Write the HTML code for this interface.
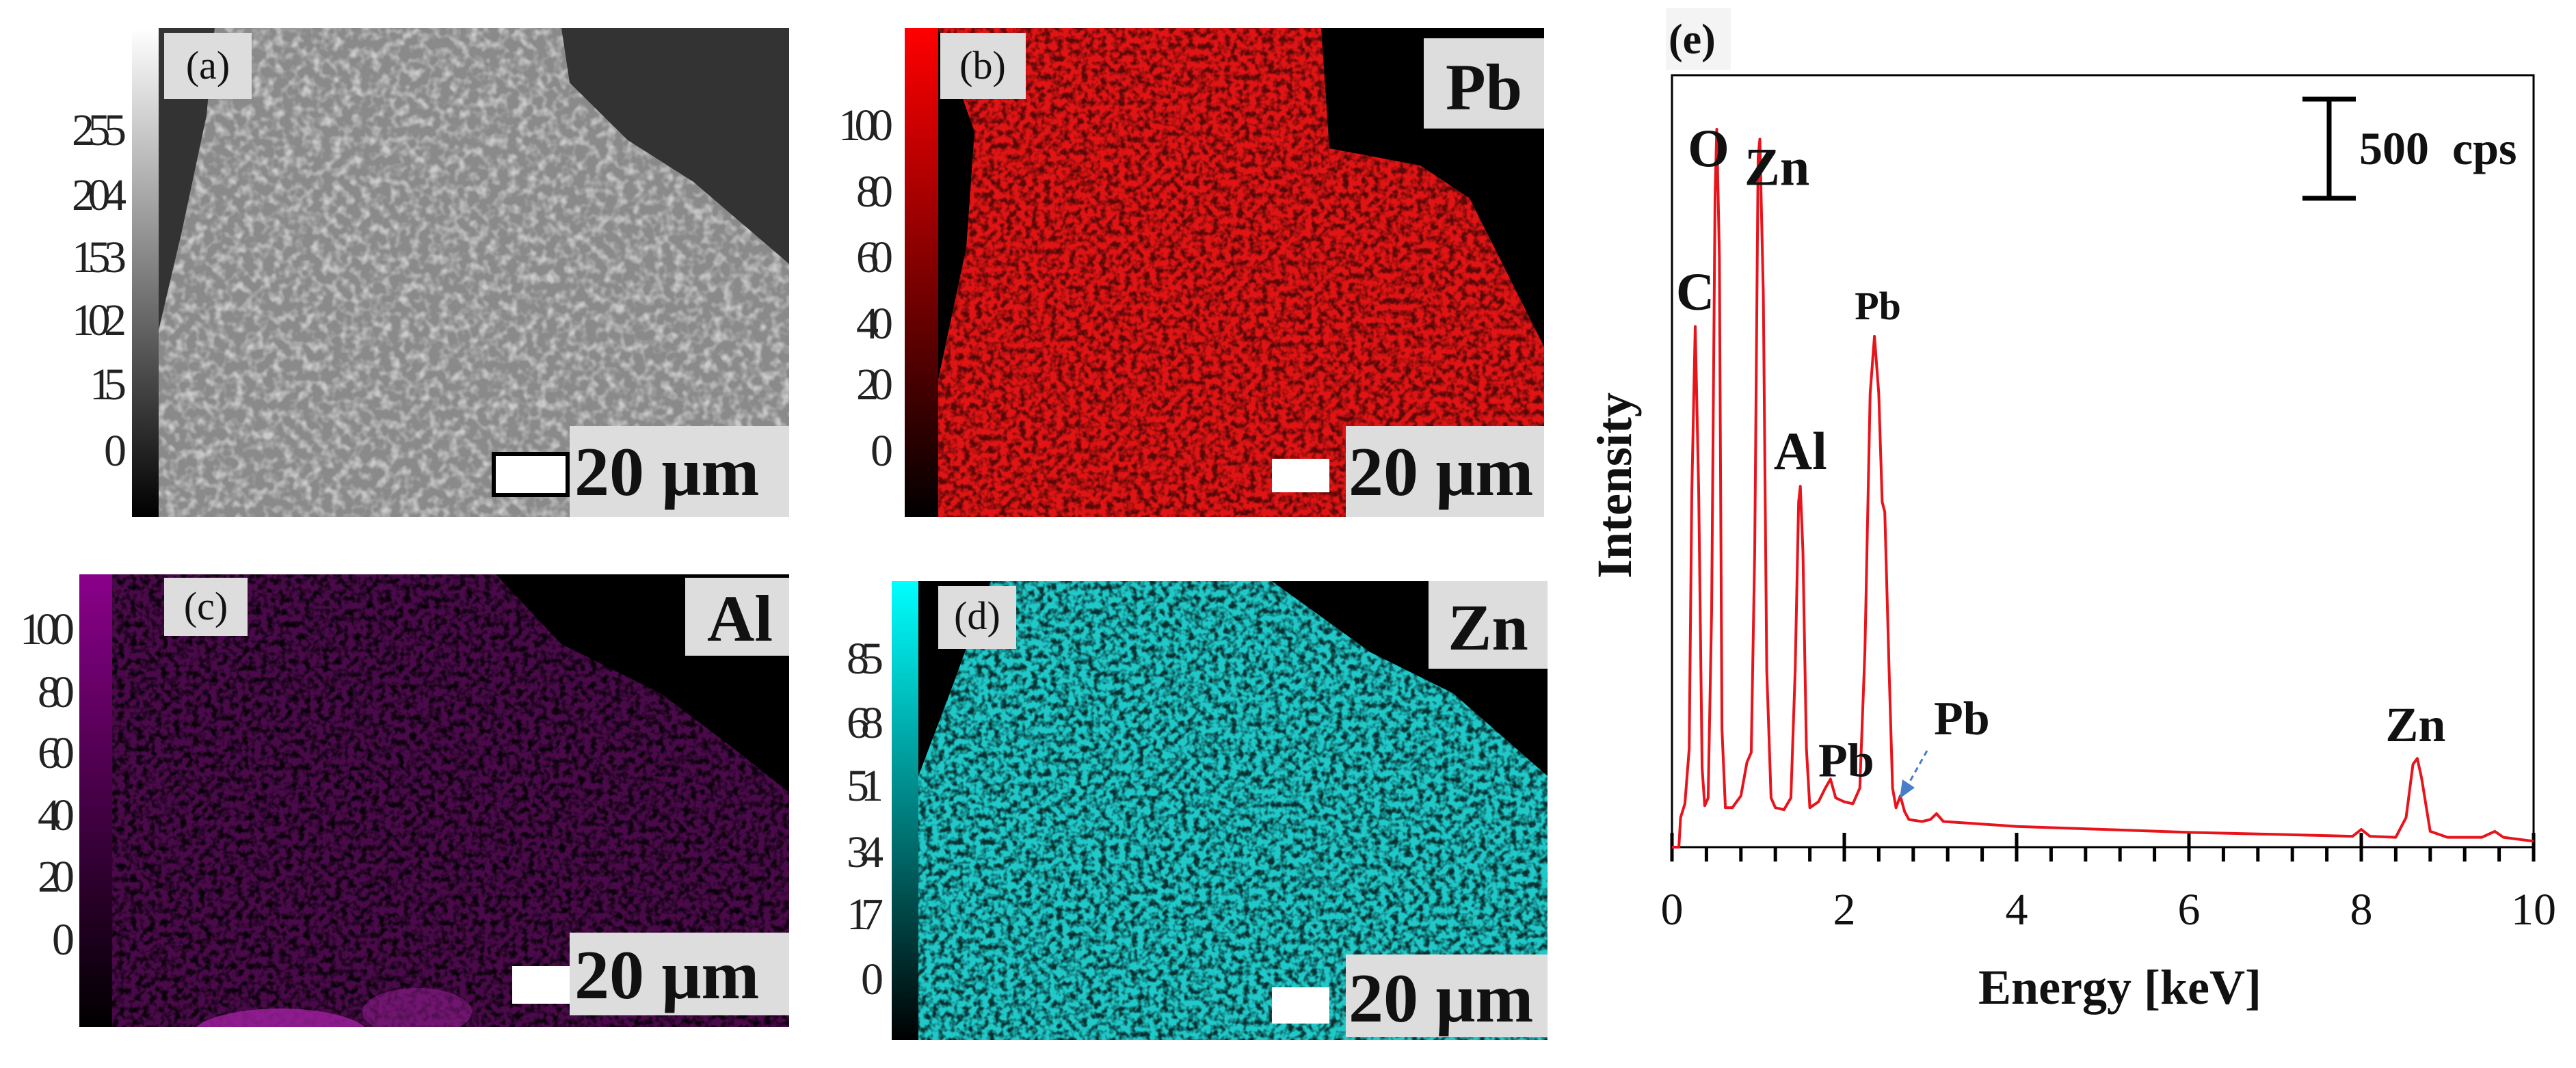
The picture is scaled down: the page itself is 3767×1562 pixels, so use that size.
<!DOCTYPE html>
<html><head><meta charset="utf-8"><style>
html,body{margin:0;padding:0;background:#fff;}
svg{display:block;}
.cb{font-family:"Liberation Serif",serif;font-size:66px;fill:#222;}
.lab{font-family:"Liberation Serif",serif;font-size:58px;fill:#111;}
.el{font-family:"Liberation Serif",serif;font-size:96px;font-weight:bold;fill:#111;}
.sc{font-family:"Liberation Serif",serif;font-size:102px;font-weight:bold;fill:#111;}
.pk{font-family:"Liberation Serif",serif;font-weight:bold;fill:#111;}
</style></head><body>
<svg id="fig" width="3767" height="1562" viewBox="0 0 3767 1562" xmlns="http://www.w3.org/2000/svg">
<defs>
<filter id="nz" x="0" y="0" width="100%" height="100%"><feTurbulence type="fractalNoise" baseFrequency="0.07" numOctaves="2" seed="3"/><feColorMatrix type="matrix" values="0 0 0 0 1  0 0 0 0 1  0 0 0 0 1  0 0 0 2.6 -1.1"/></filter>
<filter id="nzK" x="0" y="0" width="100%" height="100%"><feTurbulence type="fractalNoise" baseFrequency="0.11" numOctaves="2" seed="7"/><feColorMatrix type="matrix" values="0 0 0 0 0  0 0 0 0 0  0 0 0 0 0  0 0 0 3.2 -1.3"/></filter>
<linearGradient id="gA" x1="0" y1="1" x2="0" y2="0"><stop offset="0" stop-color="#000"/><stop offset="1" stop-color="#fff"/></linearGradient>
<linearGradient id="gB" x1="0" y1="1" x2="0" y2="0"><stop offset="0" stop-color="#000"/><stop offset="1" stop-color="#f00"/></linearGradient>
<linearGradient id="gC" x1="0" y1="1" x2="0" y2="0"><stop offset="0" stop-color="#000"/><stop offset="1" stop-color="#8a008a"/></linearGradient>
<linearGradient id="gD" x1="0" y1="1" x2="0" y2="0"><stop offset="0" stop-color="#000"/><stop offset="1" stop-color="#0ff"/></linearGradient>
<clipPath id="cA"><polygon points="314,41 821,41 833,121 918,205 1014,266 1154,386 1154,756 232,756 232,483 266,338 302,169"/></clipPath>
<clipPath id="cB"><polygon points="1372,41 1932,41 1944,217 2077,242 2149,290 2258,507 2258,756 1372,756 1372,555 1413,362 1425,193"/></clipPath>
<clipPath id="cC"><polygon points="164,840 725,840 821,942 966,1014 1063,1087 1154,1159 1154,1502 164,1502"/></clipPath>
<clipPath id="cCr"><rect x="164" y="840" width="990" height="662"/></clipPath>
<clipPath id="cD"><polygon points="1449,850 1860,850 2004,954 2125,1014 2263,1135 2263,1521 1343,1521 1343,1135 1389,1014"/></clipPath>
</defs>

<!-- panel a -->
<g>
<rect x="193" y="41" width="961" height="715" fill="#333"/>
<g clip-path="url(#cA)"><rect x="232" y="41" width="922" height="715" fill="#8a8a8a"/><rect x="232" y="41" width="922" height="715" filter="url(#nz)" opacity="0.55"/></g>
<rect x="193" y="41" width="39" height="715" fill="url(#gA)"/>
<g class="cb" text-anchor="end">
<text x="185" y="212" textLength="80">255</text><text x="185" y="307" textLength="80">204</text><text x="185" y="398" textLength="80">153</text><text x="185" y="490" textLength="80">102</text><text x="185" y="584" textLength="54">15</text><text x="185" y="681" textLength="28">0</text></g>
<rect x="240" y="48" width="128" height="97" fill="#ddd"/><text class="lab" x="304" y="115" text-anchor="middle">(a)</text>
<rect x="833" y="623" width="321" height="133" fill="#ddd"/><rect x="722" y="664" width="108" height="60" fill="#fff" stroke="#000" stroke-width="6"/>
<text class="sc" x="840" y="724">20 μm</text>
</g>

<!-- panel b -->
<g>
<rect x="1323" y="41" width="935" height="715" fill="#000"/>
<g clip-path="url(#cB)"><rect x="1372" y="41" width="886" height="715" fill="#e01414"/><rect x="1372" y="41" width="886" height="715" filter="url(#nzK)" opacity="0.6"/></g>
<rect x="1323" y="41" width="49" height="715" fill="url(#gB)"/>
<g class="cb" text-anchor="end">
<text x="1306" y="205" textLength="80">100</text><text x="1306" y="302" textLength="54">80</text><text x="1306" y="398" textLength="54">60</text><text x="1306" y="495" textLength="54">40</text><text x="1306" y="584" textLength="54">20</text><text x="1306" y="681" textLength="28">0</text></g>
<rect x="1375" y="48" width="125" height="97" fill="#ddd"/><text class="lab" x="1437" y="115" text-anchor="middle">(b)</text>
<rect x="2082" y="56" width="176" height="132" fill="#ddd"/><text class="el" x="2170" y="160" text-anchor="middle">Pb</text>
<rect x="1968" y="623" width="290" height="133" fill="#ddd"/><rect x="1860" y="671" width="84" height="49" fill="#fff"/>
<text class="sc" x="1972" y="724">20 μm</text>
</g>

<!-- panel c -->
<g>
<rect x="116" y="840" width="1038" height="662" fill="#000"/>
<g clip-path="url(#cC)"><rect x="164" y="840" width="990" height="662" fill="#4a0a4a"/><rect x="164" y="840" width="990" height="662" filter="url(#nzK)" opacity="0.85"/></g>
<g clip-path="url(#cCr)"><ellipse cx="410" cy="1515" rx="130" ry="40" fill="#a020a0" opacity="0.8"/><ellipse cx="610" cy="1480" rx="80" ry="35" fill="#9a209a" opacity="0.5"/></g>
<rect x="116" y="840" width="48" height="662" fill="url(#gC)"/>
<g class="cb" text-anchor="end">
<text x="109" y="942" textLength="80">100</text><text x="109" y="1034" textLength="54">80</text><text x="109" y="1123" textLength="54">60</text><text x="109" y="1214" textLength="54">40</text><text x="109" y="1304" textLength="54">20</text><text x="109" y="1396" textLength="28">0</text></g>
<rect x="240" y="845" width="122" height="85" fill="#ddd"/><text class="lab" x="301" y="906" text-anchor="middle">(c)</text>
<rect x="1002" y="845" width="152" height="114" fill="#ddd"/><text class="el" x="1082" y="937" text-anchor="middle">Al</text>
<rect x="833" y="1364" width="321" height="121" fill="#ddd"/><rect x="749" y="1413" width="84" height="55" fill="#fff"/>
<text class="sc" x="840" y="1460">20 μm</text>
</g>

<!-- panel d -->
<g>
<rect x="1304" y="850" width="959" height="671" fill="#000"/>
<g clip-path="url(#cD)"><rect x="1343" y="850" width="920" height="671" fill="#20c8c8"/><rect x="1343" y="850" width="920" height="671" filter="url(#nzK)" opacity="0.75"/></g>
<rect x="1304" y="850" width="39" height="671" fill="url(#gD)"/>
<g class="cb" text-anchor="end">
<text x="1292" y="985" textLength="54">85</text><text x="1292" y="1079" textLength="54">68</text><text x="1292" y="1171" textLength="54">51</text><text x="1292" y="1268" textLength="54">34</text><text x="1292" y="1359" textLength="54">17</text><text x="1292" y="1454" textLength="28">0</text></g>
<rect x="1372" y="857" width="114" height="92" fill="#ddd"/><text class="lab" x="1429" y="920" text-anchor="middle">(d)</text>
<rect x="2089" y="850" width="174" height="128" fill="#ddd"/><text class="el" x="2176" y="950" text-anchor="middle">Zn</text>
<rect x="1968" y="1396" width="295" height="121" fill="#ddd"/><rect x="1860" y="1444" width="84" height="53" fill="#fff"/>
<text class="sc" x="1972" y="1494">20 μm</text>
</g>

<!-- panel e -->
<g id="chart">
<rect x="2436" y="12" width="95" height="90" fill="#f4f4f4"/>
<text class="pk" x="2440" y="78" font-size="62">(e)</text>
<rect x="2445" y="110" width="1260" height="1129" fill="none" stroke="#000" stroke-width="3"/>
<text class="pk" x="3100" y="1468" font-size="72" text-anchor="middle">Energy [keV]</text>
<text class="pk" x="2385" y="710" font-size="72" text-anchor="middle" transform="rotate(-90 2385 710)">Intensity</text>
<g>
<line x1="3406" y1="145" x2="3406" y2="290" stroke="#000" stroke-width="7"/>
<line x1="3367" y1="145" x2="3445" y2="145" stroke="#000" stroke-width="7"/>
<line x1="3367" y1="290" x2="3445" y2="290" stroke="#000" stroke-width="7"/>
<text class="pk" x="3450" y="240" font-size="68" xml:space="preserve">500  cps</text></g>
<g id="ticks"></g>
<g id="series"></g>
<g id="annot"></g>
</g>
</svg>
<script>
const energies=[0,0.08,0.1,0.15,0.2,0.23,0.27,0.31,0.35,0.38,0.42,0.46,0.5,0.52,0.55,0.58,0.62,0.7,0.8,0.87,0.92,0.96,1.0,1.02,1.06,1.1,1.15,1.2,1.3,1.38,1.43,1.47,1.49,1.52,1.56,1.6,1.7,1.78,1.84,1.9,2.0,2.1,2.18,2.24,2.3,2.35,2.4,2.44,2.47,2.52,2.56,2.6,2.65,2.7,2.75,2.9,3.0,3.07,3.15,3.5,4,5,6,7,7.9,8.0,8.1,8.4,8.52,8.6,8.65,8.7,8.8,9.0,9.4,9.55,9.65,10];
const counts=[0,0,150,220,500,1800,2640,1800,400,210,250,1200,3300,3640,3000,600,200,200,260,430,480,1500,3500,3590,2800,900,250,200,190,250,900,1750,1830,1500,500,200,230,300,345,250,230,220,300,1000,2300,2590,2300,1750,1700,900,300,200,260,180,140,130,140,170,130,120,105,90,75,65,55,90,55,50,150,420,450,350,80,50,50,80,50,30];
const xTicks=[0,2,4,6,8,10];
const xTickLabels=["0","2","4","6","8","10"];
const peakLabels=["C","O","Zn","Al","Pb","Pb","Pb","Zn"];
const peakE=[0.27,0.52,1.02,1.49,2.35,1.84,2.65,8.63];
const peakC=[2640,3640,3590,1830,2590,345,260,450];
const NS="http://www.w3.org/2000/svg";
const X0=2445,X1=3705,Y0=1239,Y1=110,XMAX=10,YMAX=3914;
const xs=e=>X0+(e/XMAX)*(X1-X0);
const ys=c=>Y0-(c/YMAX)*(Y0-Y1);
function mk(tag,attrs,parent){const el=document.createElementNS(NS,tag);for(const k in attrs)el.setAttribute(k,attrs[k]);parent.appendChild(el);return el;}
const tg=document.getElementById('ticks');
for(let m=0;m<=25;m++){const e=m*0.4;const x=xs(e);
 const major=Math.abs(e/2-Math.round(e/2))<1e-6;
 const t=mk('line',{x1:x,x2:x,y1:major?1218:Y0,y2:1260,stroke:'#000','stroke-width':5},tg);
 
 }
xTicks.forEach((v,i)=>{const t=mk('text',{x:xs(v),y:1352,'text-anchor':'middle','font-family':'Liberation Serif, serif','font-size':66,fill:'#111'},tg);t.textContent=xTickLabels[i];
 
 });
let d='';energies.forEach((e,i)=>{d+=(i?'L':'M')+xs(e).toFixed(1)+','+ys(counts[i]).toFixed(1);});
const p=mk('path',{d:d,fill:'none',stroke:'#e8141c','stroke-width':4,'stroke-linejoin':'round'},document.getElementById('series'));


const an=document.getElementById('annot');
const offs=[[0,-25,78],[-12,54,78],[25,67,78],[0,-25,78],[5,-25,58],[23,-4,70],[90,-90,70],[0,-25,72]];
peakLabels.forEach((lab,i)=>{const o=offs[i];const t=mk('text',{x:xs(peakE[i])+o[0],y:ys(peakC[i])+o[1],'text-anchor':'middle','font-size':o[2],class:'pk'},an);t.textContent=lab;
 
 });
const ar=mk('line',{x1:2818,y1:1098,x2:2790,y2:1148,stroke:'#4a7cc8','stroke-width':3,'stroke-dasharray':'8,6'},an);


const ah=mk('polygon',{points:'2778,1168 2782,1140 2800,1152',fill:'#4a7cc8'},an);


</script>
</body></html>
